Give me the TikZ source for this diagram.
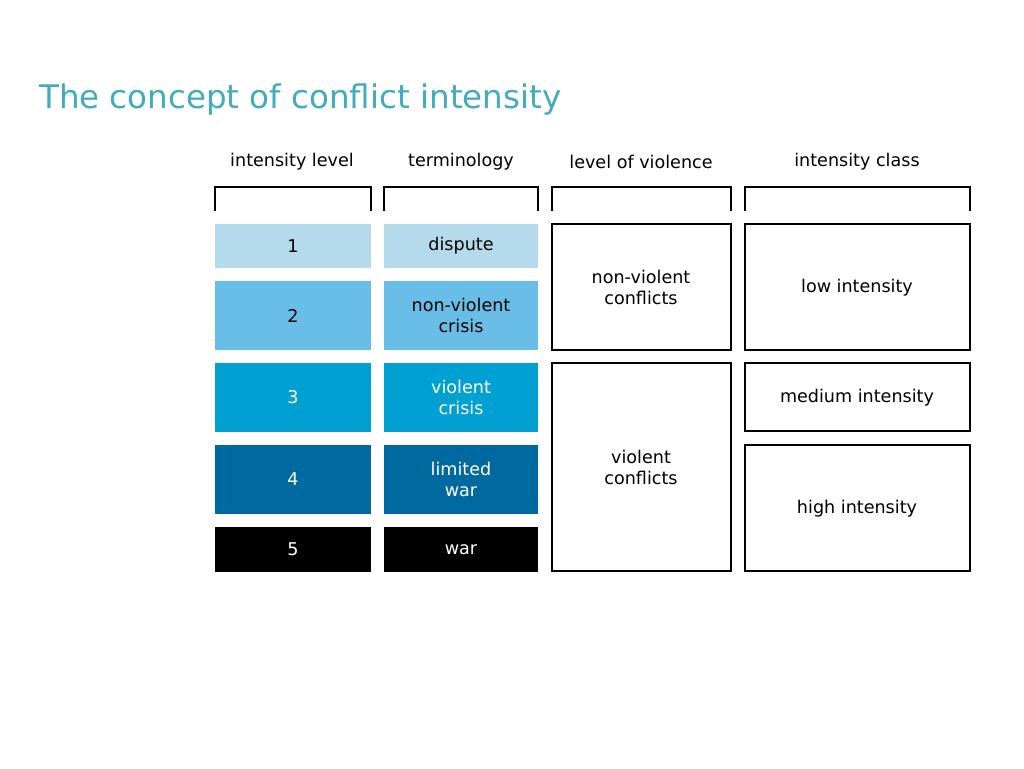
\documentclass[tikz,border=0pt]{standalone}
\usepackage{fontspec}
\setmainfont{DejaVu Sans}
\definecolor{titlec}{RGB}{64,172,190}
\definecolor{c1}{RGB}{180,218,236}
\definecolor{c2}{RGB}{104,190,230}
\definecolor{c3}{RGB}{0,160,210}
\definecolor{c4}{RGB}{0,106,160}
\begin{document}
\begin{tikzpicture}[x=0.02cm,y=-0.02cm,
  lbl/.style={font=\fontsize{10}{12}\selectfont,align=center},
  cell/.style={fill=#1},
  obox/.style={draw=black,line width=1.4pt,fill=white},
  brk/.style={draw=black,line width=1.6pt}]
\useasboundingbox (0,0) rectangle (1024,768);
\node[anchor=west,text=titlec,font=\fontsize{18.5}{22}\selectfont] (title) at (33,100) {The concept of conflict intensity};
\foreach \n/\x/\t in {h1/292/intensity level,h2/461/terminology,h3/641/level of violence,h4/857/intensity class}
  \node[lbl] (\n) at (\x,162) {\t};
\foreach \a/\b in {215/371,384/538,552/731,745/970}
  \draw[brk] (\a,211) -- (\a,187) -- (\b,187) -- (\b,211);
% rows
\foreach \i/\ya/\yb/\c/\tc/\term in {1/224/268/c1/black/dispute,2/281/350/c2/black/{non-violent\\crisis},3/363/432/c3/white/{violent\\crisis},4/445/514/c4/white/{limited\\war},5/527/572/black/white/war}{
  \fill[\c] (215,\ya) rectangle (371,\yb);
  \node[lbl,text=\tc] (n\i) at (293,{(\ya+\yb)/2}) {\i};
  \fill[\c] (384,\ya) rectangle (538,\yb);
  \node[lbl,text=\tc] (t\i) at (461,{(\ya+\yb)/2}) {\term};
}
\draw[obox] (552,224) rectangle (731,350);
\node[lbl] (nv) at (641,287) {non-violent\\conflicts};
\draw[obox] (552,363) rectangle (731,571);
\node[lbl] (vc) at (641,467) {violent\\conflicts};
\draw[obox] (745,224) rectangle (970,350);
\node[lbl] (lo) at (857,288) {low intensity};
\draw[obox] (745,363) rectangle (970,431);
\node[lbl] (me) at (857,398) {medium intensity};
\draw[obox] (745,445) rectangle (970,571);
\node[lbl] (hi) at (857,509) {high intensity};
\end{tikzpicture}
\end{document}
